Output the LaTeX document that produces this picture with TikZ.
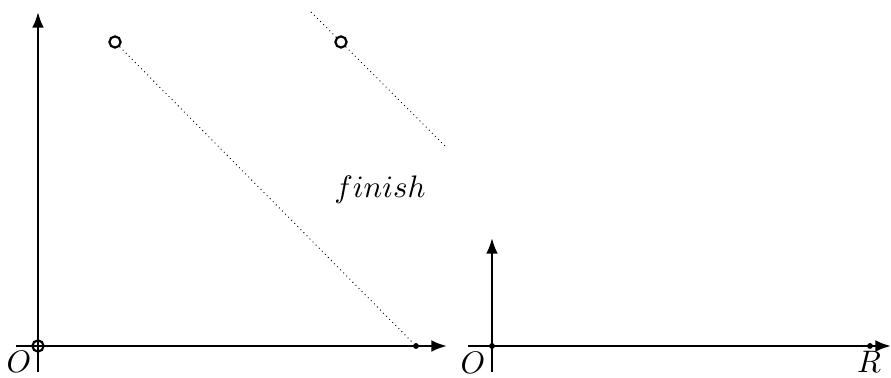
\documentclass[tikz,border=0pt]{standalone}
\usetikzlibrary{arrows.meta}
\begin{document}
\begin{tikzpicture}[x=0.3215pt,y=-0.3215pt,
  axis/.style={line width=0.8pt,-{Latex[length=5pt,width=3.8pt]}},
  ring/.style={circle,draw,line width=0.7pt,minimum size=3.6pt,inner sep=0pt},
  pt/.style={circle,fill,minimum size=1.9pt,inner sep=0pt},
  guide/.style={line width=0.3pt,dash pattern=on 0.3pt off 1.1pt}]
\useasboundingbox (0,0) rectangle (891,378);
% left diagram
\coordinate (lxs) at (16,346);
\coordinate (lxe) at (447,346);
\coordinate (lys) at (38,372);
\coordinate (lye) at (38,12);
\draw[axis] (lxs) -- (lxe);
\draw[axis] (lys) -- (lye);
\node[ring] (o1) at (38,346) {};
\node[pt] (p1) at (416,346) {};
\node[ring] (c1) at (115,42) {};
\node[ring] (c2) at (341,42) {};
\coordinate (g2s) at (311,12);
\coordinate (g2e) at (447,148);
\draw[guide] (c1) -- (p1);
\draw[guide] (g2s) -- (c2) -- (g2e);
\node (fin) at (380,190) {$finish$};
\node (lO) at (19,362) {$O$};
% right diagram
\coordinate (rxs) at (468,346);
\coordinate (rxe) at (891,346);
\coordinate (rys) at (492,372);
\coordinate (rye) at (492,238);
\draw[axis] (rxs) -- (rxe);
\draw[axis] (rys) -- (rye);
\node[pt] (o2) at (492,346) {};
\node[pt] (pR) at (870,346) {};
\node (rO) at (473,363) {$O$};
\node (rR) at (869,362) {$R$};
\end{tikzpicture}
\end{document}
